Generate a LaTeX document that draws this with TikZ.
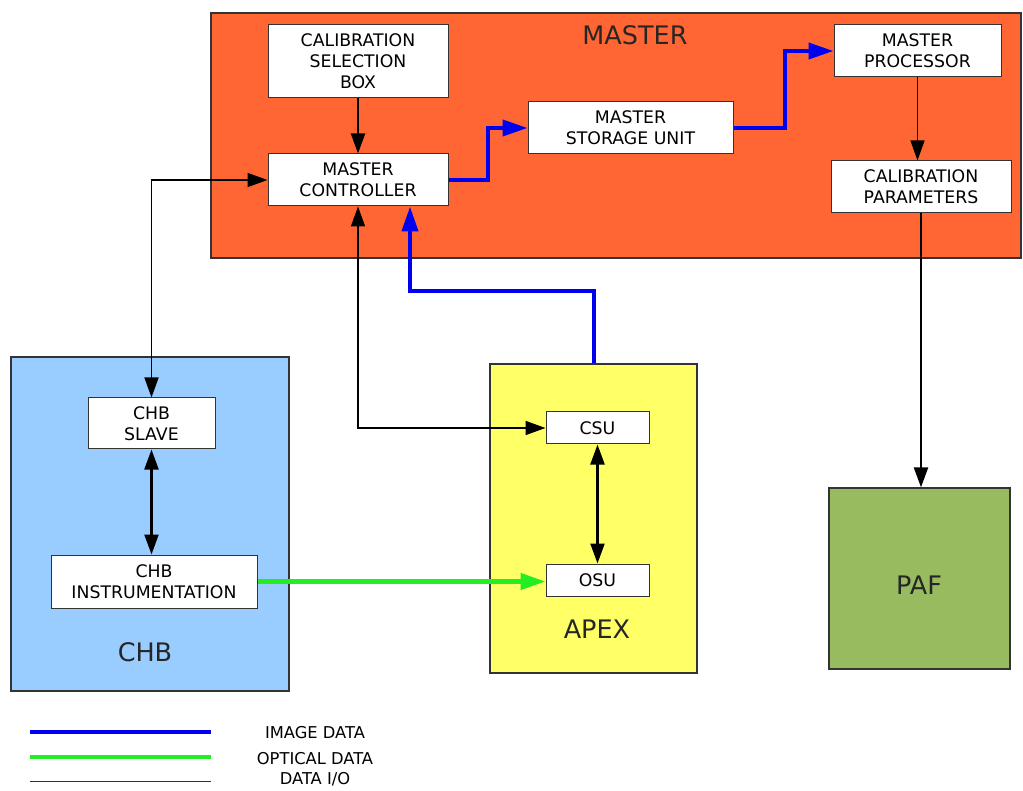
\documentclass[tikz,border=0pt]{standalone}
\usepackage{fontspec}
\setmainfont{DejaVu Sans}
\usetikzlibrary{arrows.meta,calc}
\definecolor{mastercol}{HTML}{FF6633}
\definecolor{chbcol}{HTML}{99CCFF}
\definecolor{apexcol}{HTML}{FFFF66}
\definecolor{pafcol}{HTML}{99BB5F}
\definecolor{imgblue}{HTML}{0000F0}
\definecolor{optgreen}{HTML}{22EE22}
\definecolor{edgegray}{HTML}{333333}
\begin{document}
\begin{tikzpicture}[x=1pt,y=-1pt,
  unitbox/.style={draw=edgegray,line width=1pt,fill=white,align=center,inner sep=0pt,
    font=\fontsize{17.3}{21}\selectfont},
  bigbox/.style={draw=edgegray,line width=1.2pt,inner sep=0pt},
  bigtitle/.style={font=\fontsize{25.5}{30}\selectfont,text=black!85},
  legendtext/.style={font=\fontsize{16.3}{19}\selectfont},
  tip/.style={Triangle[length=20pt,width=14pt]},
  io/.style={line width=2.2pt,-{Triangle[length=20pt,width=14pt]}},
  iothin/.style={line width=1.3pt,-{Triangle[length=20pt,width=14pt]}},
  iobi/.style={line width=2.2pt,{Triangle[length=20pt,width=14pt]}-{Triangle[length=20pt,width=14pt]}},
  iobithin/.style={line width=1.6pt,{Triangle[length=20pt,width=14pt]}-{Triangle[length=20pt,width=14pt]}},
  imgdata/.style={imgblue,line width=4pt,-{Triangle[length=25pt,width=16pt]}},
  optdata/.style={optgreen,line width=4.5pt,-{Triangle[length=25pt,width=16pt]}}
]
\useasboundingbox (0,0) rectangle (1023,791);
\fill[white] (0,0) rectangle (1023,791);

% big boxes
\node[bigbox,fill=mastercol,minimum width=810pt,minimum height=245pt] (master) at (616,135.5) {};
\node[bigbox,fill=chbcol,minimum width=278pt,minimum height=334pt] (chb) at (150,524) {};
\node[bigbox,fill=apexcol,minimum width=207pt,minimum height=309pt] (apex) at (593.5,518.5) {};
\node[bigbox,fill=pafcol,minimum width=181pt,minimum height=181pt] (paf) at (919.5,578.5) {};

\node[bigtitle] (mastert) at (635,35) {MASTER};
\node[bigtitle] (chbt) at (145,652) {CHB};
\node[bigtitle] (apext) at (597,629) {APEX};
\node[bigtitle] (paft) at (919,585) {PAF};

% unit boxes
\node[unitbox,minimum width=180pt,minimum height=73pt] (calsel) at (358,61.5) {CALIBRATION\\SELECTION\\BOX};
\node[unitbox,minimum width=180pt,minimum height=52pt] (mc) at (358,180) {MASTER\\CONTROLLER};
\node[unitbox,minimum width=205pt,minimum height=52pt] (msu) at (630.5,128) {MASTER\\STORAGE UNIT};
\node[unitbox,minimum width=167pt,minimum height=52pt] (mp) at (917.5,51) {MASTER\\PROCESSOR};
\node[unitbox,minimum width=180pt,minimum height=52pt] (cp) at (921,187) {CALIBRATION\\PARAMETERS};
\node[unitbox,minimum width=127pt,minimum height=51pt] (chbs) at (151.5,423.5) {CHB\\SLAVE};
\node[unitbox,minimum width=206pt,minimum height=53pt] (chbi) at (154,581.5) {CHB\\INSTRUMENTATION};
\node[unitbox,minimum width=103pt,minimum height=32pt] (csu) at (597.5,428) {CSU};
\node[unitbox,minimum width=103pt,minimum height=32pt] (osu) at (597.5,580) {OSU};

% connectors
\draw[io] (calsel.south) -- (mc.north);
\draw[imgdata] (mc.east) -- ++(39,0) |- (msu.west);
\draw[imgdata] (msu.east) -- ++(51,0) |- (mp.west);
\draw[iothin] (mp.south) -- (mp.south |- cp.north);
\draw[io] (cp.south) -- (cp.south |- paf.north);
\draw[iobithin] (chbs.north) |- (mc.west);
\draw[iobithin] (mc.south) |- (csu.west);
\draw[imgdata] (apex.north) -- ++(0,-72) -| ([xshift=52pt]mc.south);
\draw[iobi] (chbs.south) -- (chbs.south |- chbi.north);
\draw[iobi] (csu.south) -- (osu.north);
\draw[optdata] (chbi.east) -- (chbi.east -| osu.west);

% legend
\coordinate (lb1) at (30,732);
\coordinate (lb2) at (211,732);
\coordinate (lg1) at (30,757);
\coordinate (lg2) at (211,757);
\coordinate (lk1) at (30,781);
\coordinate (lk2) at (211,781);
\draw[imgblue,line width=4pt] (lb1) -- (lb2);
\draw[optgreen,line width=4pt] (lg1) -- (lg2);
\draw[black!80,line width=1pt] (lk1) -- (lk2);
\node[legendtext] (limg) at (315,733) {IMAGE DATA};
\node[legendtext] (lopt) at (315,759) {OPTICAL DATA};
\node[legendtext,anchor=south] (lio) at (315,790) {DATA I/O};
\end{tikzpicture}
\end{document}
